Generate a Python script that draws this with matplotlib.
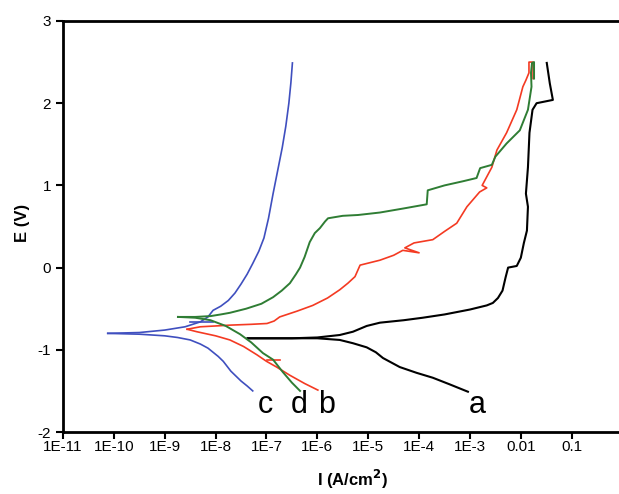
import numpy as np
import matplotlib
matplotlib.use("Agg")
import matplotlib.pyplot as plt

plt.rcParams['font.family'] = ['Liberation Sans', 'DejaVu Sans']

# log10(I) and E (V)
# a (black)
a_an_logI = [-7.37, -6.5, -6.0, -5.56, -5.3, -5.03, -4.77, -4.3, -3.93, -3.5, -3.0, -2.67, -2.55,
             -2.45, -2.36, -2.30, -2.25, -2.08, -2.0, -1.94, -1.88, -1.86, -1.90, -1.86, -1.83,
             -1.77, -1.69, -1.37, -1.43, -1.49]
a_an_E = [-0.86, -0.86, -0.85, -0.82, -0.78, -0.71, -0.67, -0.64, -0.61, -0.57, -0.51, -0.46, -0.43,
          -0.37, -0.28, -0.12, 0.0, 0.02, 0.12, 0.3, 0.45, 0.74, 0.9, 1.22, 1.64,
          1.92, 2.0, 2.04, 2.24, 2.49]
a_ca_logI = [-7.37, -6.5, -6.0, -5.56, -5.3, -5.03, -4.85, -4.71, -4.38, -4.05, -3.73, -3.4, -3.04]
a_ca_E = [-0.86, -0.86, -0.86, -0.88, -0.92, -0.97, -1.03, -1.10, -1.21, -1.28, -1.34, -1.42, -1.51]

# b (red)
b_an_logI = [-8.56, -8.3, -8.0, -7.72, -7.3, -6.99, -6.85, -6.74, -6.4, -6.09, -5.8, -5.56, -5.4,
             -5.26, -5.16, -4.77, -4.5, -4.32, -4.0, -4.28, -4.1, -3.73, -3.5, -3.26, -3.06,
             -2.81, -2.67, -2.76, -2.57, -2.47, -2.28, -2.08, -1.96, -1.90, -1.84, -1.84, -1.76, -1.76]
b_an_E = [-0.75, -0.72, -0.71, -0.70, -0.69, -0.68, -0.65, -0.60, -0.53, -0.46, -0.37, -0.27, -0.19,
          -0.11, 0.03, 0.09, 0.15, 0.21, 0.18, 0.24, 0.30, 0.34, 0.44, 0.54, 0.74,
          0.92, 0.97, 1.0, 1.22, 1.43, 1.64, 1.92, 2.2, 2.28, 2.37, 2.50, 2.50, 2.30]
b_ca_logI = [-8.56, -8.37, -8.0, -7.72, -7.45, -7.19, -7.0, -6.8, -6.54, -6.25, -5.99]
b_ca_E = [-0.75, -0.78, -0.83, -0.88, -0.96, -1.06, -1.14, -1.21, -1.31, -1.41, -1.49]
b_seg_logI = [-6.99, -6.74]
b_seg_E = [-1.12, -1.12]

# c (blue)
c_an_logI = [-10.12, -9.5, -9.0, -8.6, -8.3, -8.15, -8.05, -7.9, -7.75, -7.62, -7.5, -7.38, -7.27,
             -7.15, -7.05, -6.96, -6.87, -6.78, -6.69, -6.62, -6.56, -6.52, -6.49]
c_an_E = [-0.80, -0.79, -0.76, -0.72, -0.66, -0.60, -0.52, -0.47, -0.40, -0.31, -0.20, -0.08, 0.05,
          0.2, 0.36, 0.6, 0.9, 1.18, 1.46, 1.72, 2.0, 2.25, 2.49]
c_ca_logI = [-10.12, -9.5, -9.0, -8.75, -8.5, -8.3, -8.15, -8.05, -7.95, -7.85, -7.7, -7.6,
             -7.5, -7.38, -7.27]
c_ca_E = [-0.80, -0.81, -0.83, -0.85, -0.88, -0.93, -0.98, -1.03, -1.08, -1.14, -1.26, -1.32,
          -1.38, -1.44, -1.50]
c_seg_logI = [-8.5, -8.05]
c_seg_E = [-0.66, -0.66]

# d (green)
d_an_logI = [-8.74, -8.4, -8.1, -7.9, -7.72, -7.4, -7.1, -6.87, -6.7, -6.54, -6.42, -6.34, -6.25,
             -6.15, -6.05, -5.95, -5.85, -5.79, -5.5, -5.2, -4.77, -4.3, -3.85, -3.83, -3.5,
             -3.14, -2.87, -2.80, -2.57, -2.50, -2.28, -2.02, -1.86, -1.79, -1.80, -1.78, -1.74, -1.74]
d_an_E = [-0.60, -0.60, -0.59, -0.57, -0.55, -0.50, -0.44, -0.36, -0.28, -0.19, -0.08, 0.0, 0.13,
          0.31, 0.42, 0.48, 0.56, 0.60, 0.63, 0.64, 0.67, 0.72, 0.77, 0.94, 1.0,
          1.05, 1.09, 1.21, 1.25, 1.35, 1.51, 1.67, 1.92, 2.2, 2.37, 2.49, 2.50, 2.30]
d_ca_logI = [-8.74, -8.4, -8.1, -7.8, -7.52, -7.3, -7.07, -6.87, -6.68, -6.5, -6.34]
d_ca_E = [-0.60, -0.61, -0.64, -0.71, -0.81, -0.91, -1.04, -1.12, -1.27, -1.40, -1.50]

labels = ['c', 'd', 'b', 'a']
label_logI = [-7.03, -6.36, -5.81, -2.86]
label_E = [-1.67, -1.67, -1.67, -1.67]

xtick_exp = list(range(-11, 0))
xtick_labels = ['1E-11', '1E-10', '1E-9', '1E-8', '1E-7', '1E-6', '1E-5', '1E-4', '1E-3',
                '0.01', '0.1']

fig = plt.figure(figsize=(6.19, 4.94), dpi=100)
ax = fig.add_axes([63 / 619, 62 / 494, 585 / 619, 411 / 494])

def curve(lx, e, color, lw=1.2):
    ax.plot(10.0 ** np.array(lx), e, color=color, lw=lw)

curve(a_an_logI, a_an_E, 'black', 1.5)
curve(a_ca_logI, a_ca_E, 'black', 1.5)
curve(b_an_logI, b_an_E, '#f43a22')
curve(b_ca_logI, b_ca_E, '#f43a22')
curve(b_seg_logI, b_seg_E, '#f43a22')
curve(c_an_logI, c_an_E, '#3f4fbf')
curve(c_ca_logI, c_ca_E, '#3f4fbf')
curve(c_seg_logI, c_seg_E, '#3f4fbf')
curve(d_an_logI, d_an_E, '#2f7d34', 1.4)
curve(d_ca_logI, d_ca_E, '#2f7d34', 1.4)

for t, lx, e in zip(labels, label_logI, label_E):
    ax.text(10.0 ** lx, e, t, fontsize=22, ha='center', va='center')

ax.set_xscale('log')
ax.set_xlim(1e-11, 10 ** 0.5)
ax.set_ylim(-2, 3)
ax.set_xticks([10.0 ** k for k in xtick_exp])
ax.set_xticklabels(xtick_labels)
ax.minorticks_off()
ax.set_yticks([-2, -1, 0, 1, 2, 3])
ax.set_yticklabels(['-2', '-1', '0', '1', '2', '3'])
ax.tick_params(labelsize=11, width=1.5, length=5)
ax.tick_params(axis='x', pad=1)
ax.spines['right'].set_visible(False)
for s in ['left', 'bottom', 'top']:
    ax.spines[s].set_linewidth(2)

fig.text(22 / 619, 1 - 223 / 494, 'E (V)', rotation=90, fontsize=12, fontweight='bold',
         ha='center', va='center')
fig.text(352 / 619, 1 - 479 / 494, 'I (A/cm$^\\mathbf{2}$)', fontsize=12, fontweight='bold',
         ha='center', va='center')

fig.savefig('out.png', dpi=100)
